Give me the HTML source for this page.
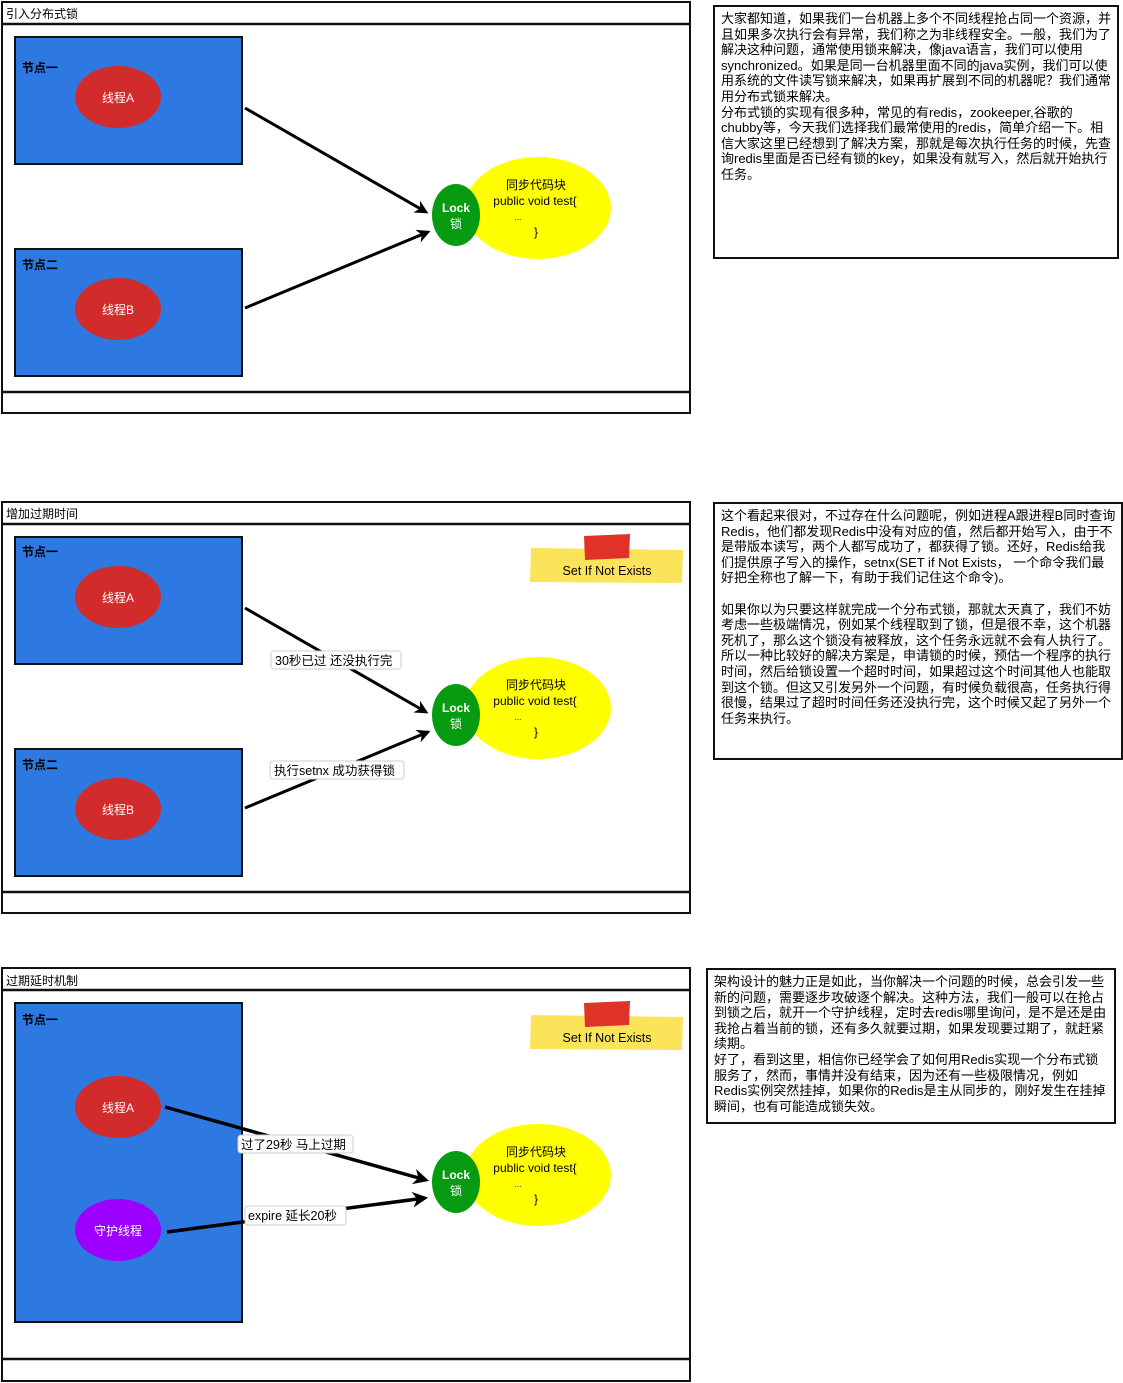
<!DOCTYPE html>
<html><head><meta charset="utf-8"><style>
body{margin:0;background:#fff;width:1123px;height:1383px;overflow:hidden;position:relative;font-family:"Liberation Sans","Noto Sans CJK SC",sans-serif}
.tb{position:absolute;border:2px solid #111;background:#fff;box-sizing:border-box;padding:4px 6px;font-size:13px;line-height:15.6px;color:#000;white-space:nowrap}
svg text{font-family:"Liberation Sans","Noto Sans CJK SC",sans-serif}
</style></head><body>
<svg width="1123" height="1383" style="position:absolute;left:0;top:0">
<defs>
<marker id="ah" viewBox="0 0 10 10" refX="8" refY="5" markerWidth="4.5" markerHeight="4.5" orient="auto"><path d="M0,0 L10,5 L0,10 L3,5 z" fill="#000"/></marker>
<g id="code">
<ellipse cx="538" cy="0" rx="73" ry="51" fill="#ffff00"/>
<ellipse cx="456" cy="7" rx="24" ry="31" fill="#079b12"/>
<text x="536" y="-19" font-size="12" text-anchor="middle">同步代码块</text>
<text x="535" y="-3" font-size="12" text-anchor="middle">public void test{</text>
<text x="518" y="12" font-size="8" text-anchor="middle">...</text>
<text x="536" y="28" font-size="12" text-anchor="middle">}</text>
<text x="456" y="4" font-size="12" font-weight="bold" fill="#fff" text-anchor="middle">Lock</text>
<text x="456" y="20" font-size="12" fill="#fff" text-anchor="middle">锁</text>
</g>
<g id="note">
<path d="M531,0 L683,2 L682,35 L530,34 z" fill="#fbe35a"/>
<path d="M584,-12 L630,-14 L629,10 L585,12 z" fill="#e03229"/>
<text x="607" y="27" font-size="12.5" text-anchor="middle">Set If Not Exists</text>
</g>
</defs>

<!-- Panel 1 -->
<rect x="2" y="2" width="688" height="411" fill="#fff" stroke="#111" stroke-width="2"/>
<line x1="2" y1="24" x2="690" y2="24" stroke="#111" stroke-width="2.5"/>
<line x1="2" y1="392" x2="690" y2="392" stroke="#111" stroke-width="2.5"/>
<text x="6" y="18" font-size="12">引入分布式锁</text>
<rect x="15" y="37" width="227" height="127" fill="#2e78e2" stroke="#111" stroke-width="2"/>
<text x="22" y="72" font-size="12" font-weight="bold">节点一</text>
<ellipse cx="118" cy="97" rx="43" ry="31" fill="#d12b2b"/>
<text x="118" y="102" font-size="12" fill="#fff" text-anchor="middle">线程A</text>
<rect x="15" y="249" width="227" height="127" fill="#2e78e2" stroke="#111" stroke-width="2"/>
<text x="22" y="269" font-size="12" font-weight="bold">节点二</text>
<ellipse cx="118" cy="309" rx="43" ry="31" fill="#d12b2b"/>
<text x="118" y="314" font-size="12" fill="#fff" text-anchor="middle">线程B</text>
<line x1="245" y1="108" x2="426" y2="212" stroke="#000" stroke-width="3" marker-end="url(#ah)"/>
<line x1="245" y1="308" x2="428" y2="232" stroke="#000" stroke-width="3" marker-end="url(#ah)"/>
<use href="#code" y="208"/>

<!-- Panel 2 -->
<rect x="2" y="502" width="688" height="411" fill="#fff" stroke="#111" stroke-width="2"/>
<line x1="2" y1="524" x2="690" y2="524" stroke="#111" stroke-width="2.5"/>
<line x1="2" y1="892" x2="690" y2="892" stroke="#111" stroke-width="2.5"/>
<text x="6" y="518" font-size="12">增加过期时间</text>
<rect x="15" y="537" width="227" height="127" fill="#2e78e2" stroke="#111" stroke-width="2"/>
<text x="22" y="556" font-size="12" font-weight="bold">节点一</text>
<ellipse cx="118" cy="597" rx="43" ry="31" fill="#d12b2b"/>
<text x="118" y="602" font-size="12" fill="#fff" text-anchor="middle">线程A</text>
<rect x="15" y="749" width="227" height="127" fill="#2e78e2" stroke="#111" stroke-width="2"/>
<text x="22" y="769" font-size="12" font-weight="bold">节点二</text>
<ellipse cx="118" cy="809" rx="43" ry="31" fill="#d12b2b"/>
<text x="118" y="814" font-size="12" fill="#fff" text-anchor="middle">线程B</text>
<line x1="245" y1="608" x2="426" y2="712" stroke="#000" stroke-width="3" marker-end="url(#ah)"/>
<line x1="245" y1="808" x2="428" y2="732" stroke="#000" stroke-width="3" marker-end="url(#ah)"/>
<rect x="271" y="651" width="130" height="18" rx="3" fill="#fff" stroke="#ccc"/>
<text x="275" y="665" font-size="12.5">30秒已过 还没执行完</text>
<rect x="270" y="761" width="134" height="18" rx="3" fill="#fff" stroke="#ccc"/>
<text x="274" y="775" font-size="12.5">执行setnx 成功获得锁</text>
<use href="#code" y="708"/>
<use href="#note" y="548"/>

<!-- Panel 3 -->
<rect x="2" y="968" width="688" height="413" fill="#fff" stroke="#111" stroke-width="2"/>
<line x1="2" y1="990" x2="690" y2="990" stroke="#111" stroke-width="2.5"/>
<line x1="2" y1="1359" x2="690" y2="1359" stroke="#111" stroke-width="2.5"/>
<text x="6" y="985" font-size="12">过期延时机制</text>
<rect x="15" y="1003" width="227" height="319" fill="#2e78e2" stroke="#111" stroke-width="2"/>
<text x="22" y="1024" font-size="12" font-weight="bold">节点一</text>
<ellipse cx="118" cy="1107" rx="43" ry="31" fill="#d12b2b"/>
<text x="118" y="1112" font-size="12" fill="#fff" text-anchor="middle">线程A</text>
<ellipse cx="118" cy="1230" rx="43" ry="31" fill="#9b00ff"/>
<text x="118" y="1235" font-size="12" fill="#fff" text-anchor="middle">守护线程</text>
<line x1="165" y1="1107" x2="426" y2="1180" stroke="#000" stroke-width="3.5" marker-end="url(#ah)"/>
<line x1="167" y1="1232" x2="425" y2="1198" stroke="#000" stroke-width="3.5" marker-end="url(#ah)"/>
<rect x="238" y="1135" width="115" height="18" rx="3" fill="#fff" stroke="#ccc"/>
<text x="241" y="1149" font-size="12.5">过了29秒 马上过期</text>
<rect x="245" y="1206" width="101" height="19" rx="3" fill="#fff" stroke="#ccc"/>
<text x="248" y="1220" font-size="12.5">expire 延长20秒</text>
<use href="#code" y="1175"/>
<use href="#note" y="1015"/>
</svg>

<div class="tb" style="left:713px;top:5px;width:406px;height:254px">大家都知道，如果我们一台机器上多个不同线程抢占同一个资源，并<br>且如果多次执行会有异常，我们称之为非线程安全。一般，我们为了<br>解决这种问题，通常使用锁来解决，像java语言，我们可以使用<br>synchronized。如果是同一台机器里面不同的java实例，我们可以使<br>用系统的文件读写锁来解决，如果再扩展到不同的机器呢？我们通常<br>用分布式锁来解决。<br>分布式锁的实现有很多种，常见的有redis，zookeeper,谷歌的<br>chubby等，今天我们选择我们最常使用的redis，简单介绍一下。相<br>信大家这里已经想到了解决方案，那就是每次执行任务的时候，先查<br>询redis里面是否已经有锁的key，如果没有就写入，然后就开始执行<br>任务。</div>

<div class="tb" style="left:713px;top:502px;width:410px;height:258px">这个看起来很对，不过存在什么问题呢，例如进程A跟进程B同时查询<br>Redis，他们都发现Redis中没有对应的值，然后都开始写入，由于不<br>是带版本读写，两个人都写成功了，都获得了锁。还好，Redis给我<br>们提供原子写入的操作，setnx(SET if Not Exists， 一个命令我们最<br>好把全称也了解一下，有助于我们记住这个命令)。<br><br>如果你以为只要这样就完成一个分布式锁，那就太天真了，我们不妨<br>考虑一些极端情况，例如某个线程取到了锁，但是很不幸，这个机器<br>死机了，那么这个锁没有被释放，这个任务永远就不会有人执行了。<br>所以一种比较好的解决方案是，申请锁的时候，预估一个程序的执行<br>时间，然后给锁设置一个超时时间，如果超过这个时间其他人也能取<br>到这个锁。但这又引发另外一个问题，有时候负载很高，任务执行得<br>很慢，结果过了超时时间任务还没执行完，这个时候又起了另外一个<br>任务来执行。</div>

<div class="tb" style="left:706px;top:968px;width:410px;height:156px">架构设计的魅力正是如此，当你解决一个问题的时候，总会引发一些<br>新的问题，需要逐步攻破逐个解决。这种方法，我们一般可以在抢占<br>到锁之后，就开一个守护线程，定时去redis哪里询问，是不是还是由<br>我抢占着当前的锁，还有多久就要过期，如果发现要过期了，就赶紧<br>续期。<br>好了，看到这里，相信你已经学会了如何用Redis实现一个分布式锁<br>服务了，然而，事情并没有结束，因为还有一些极限情况，例如<br>Redis实例突然挂掉，如果你的Redis是主从同步的，刚好发生在挂掉<br>瞬间，也有可能造成锁失效。</div>
</body></html>
